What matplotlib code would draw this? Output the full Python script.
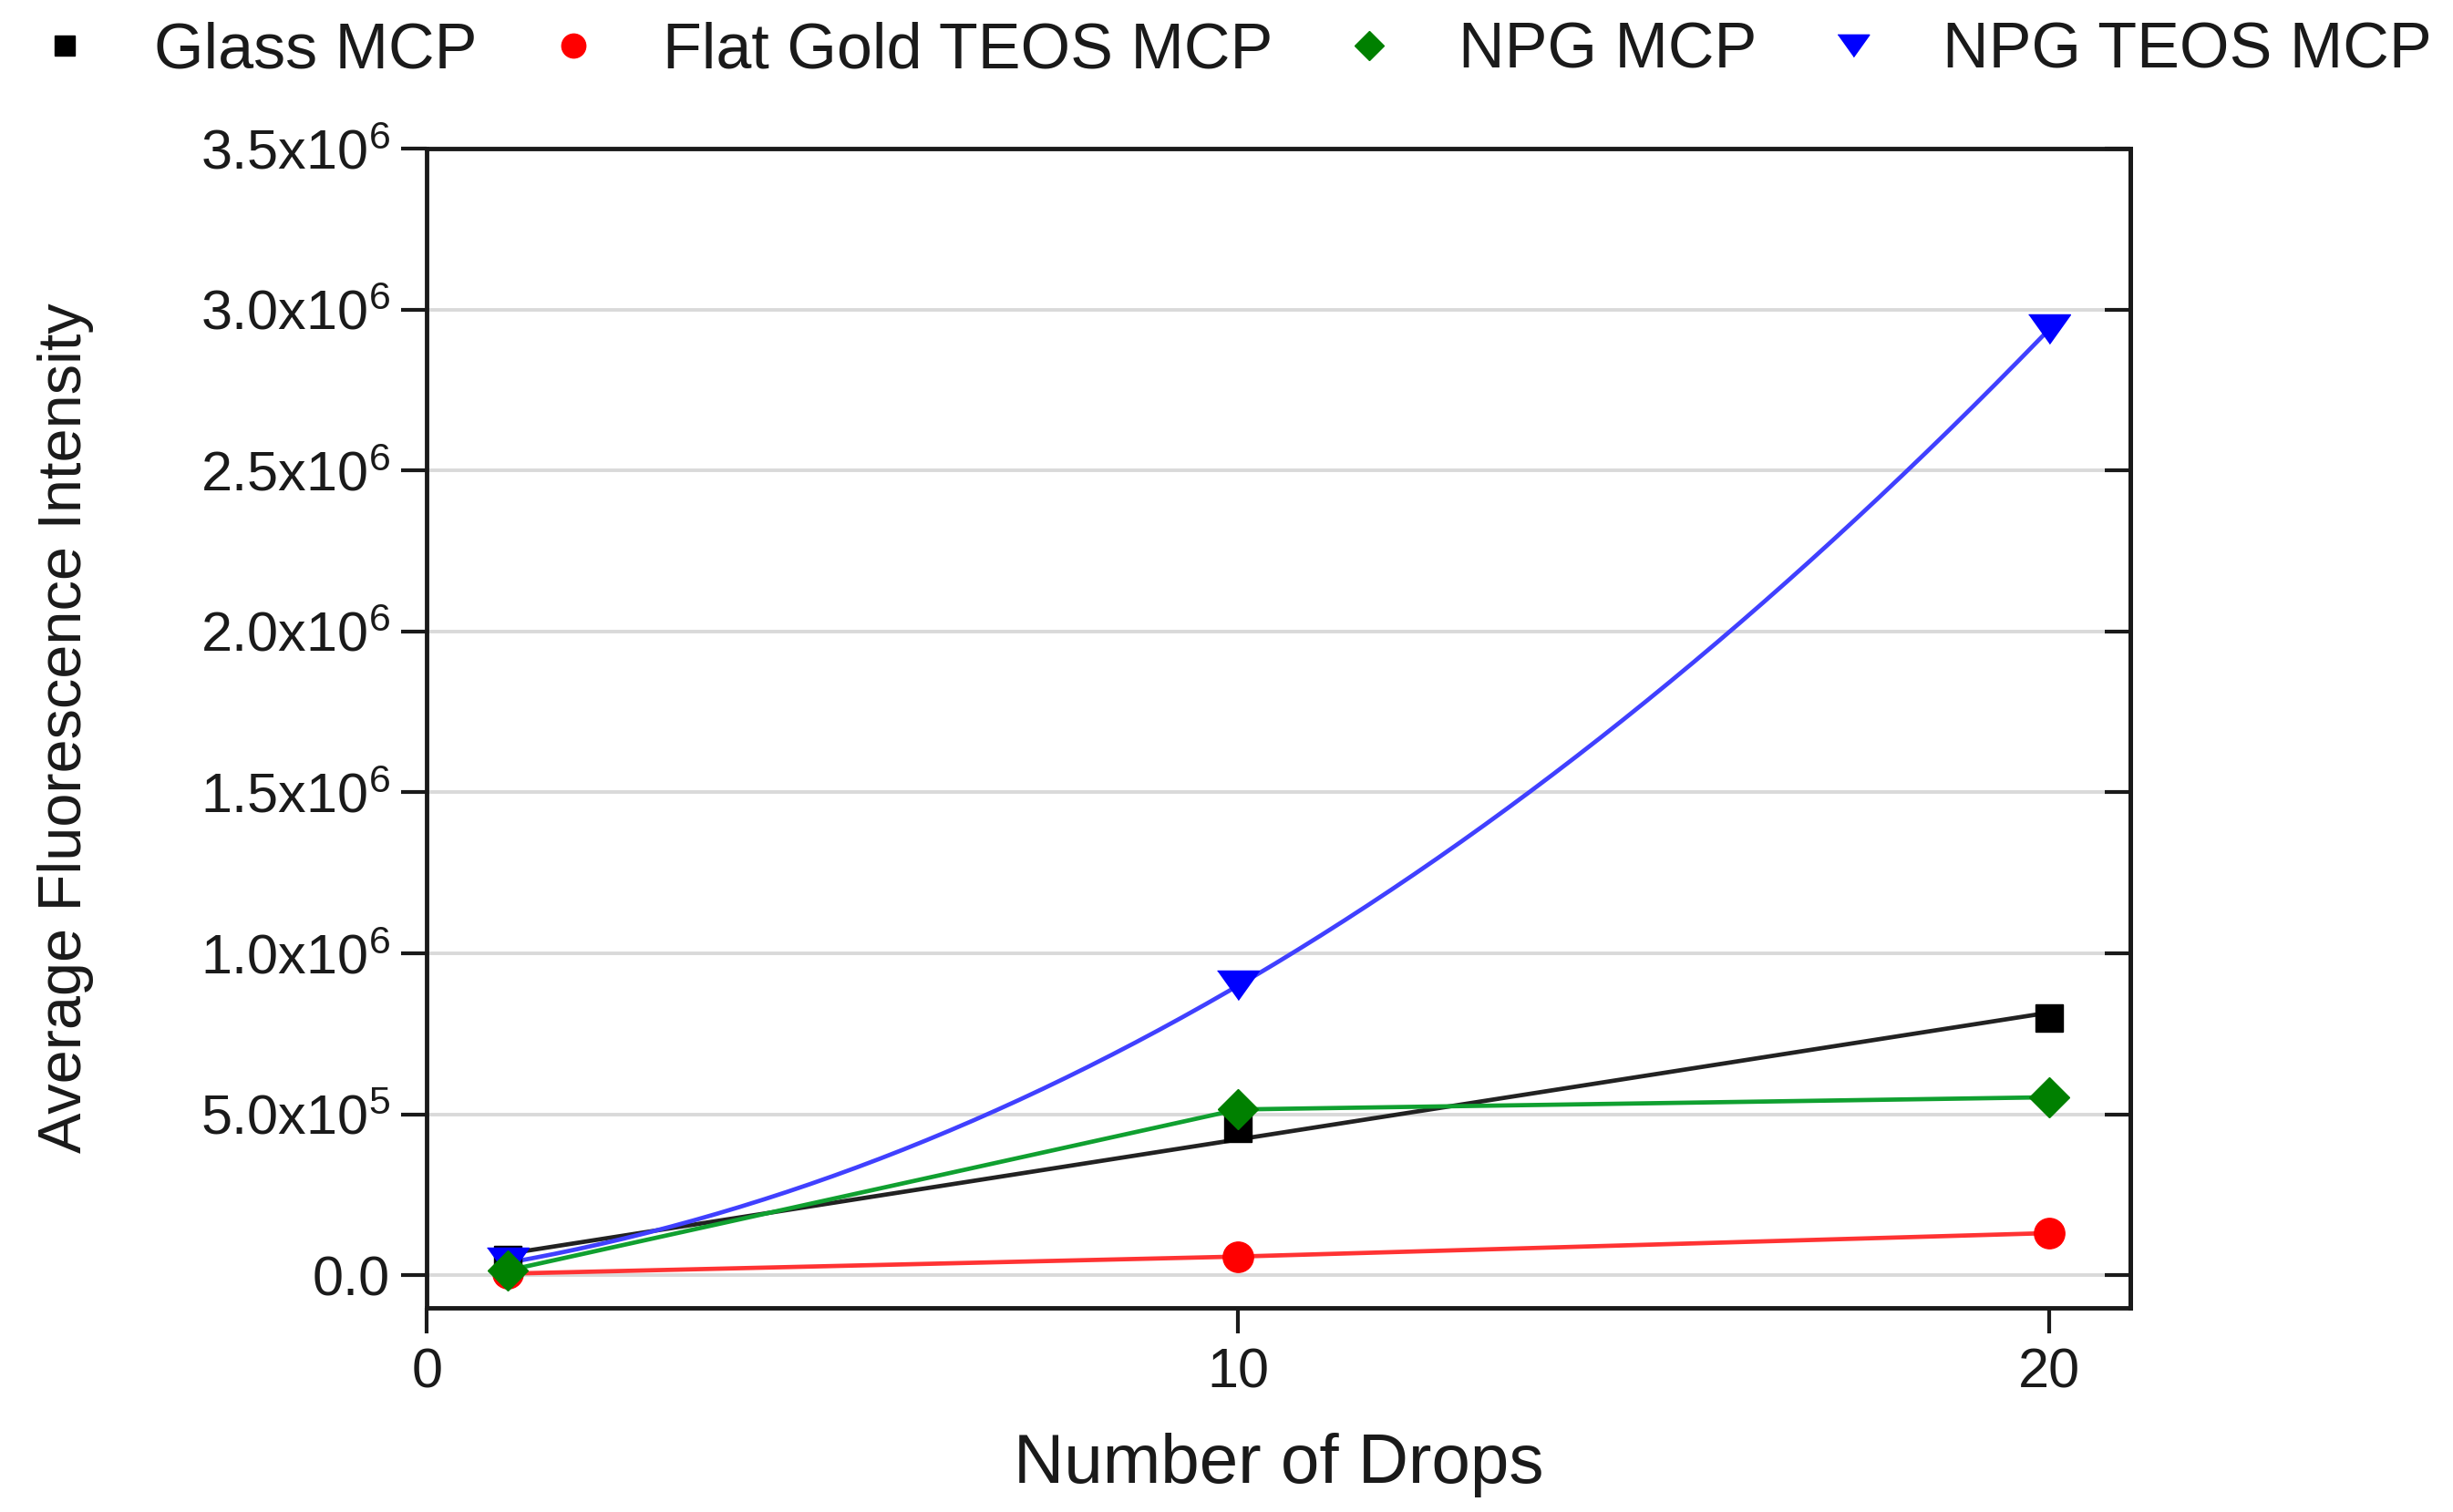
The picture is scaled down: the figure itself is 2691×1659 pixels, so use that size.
import numpy as np
import matplotlib
matplotlib.use("Agg")
import matplotlib.pyplot as plt
from matplotlib.lines import Line2D

plt.rcParams['font.family'] = ['Liberation Sans', 'DejaVu Sans']
plt.rcParams['mathtext.fontset'] = 'custom'
plt.rcParams['mathtext.rm'] = 'Liberation Sans'
plt.rcParams['mathtext.it'] = 'Liberation Sans:italic'
plt.rcParams['mathtext.bf'] = 'Liberation Sans:bold'

# data
drops = [1, 10, 20]
glass = [4.9e4, 4.56e5, 8.0e5]
flat_gold = [5e3, 5.8e4, 1.31e5]
npg = [1.5e4, 5.15e5, 5.53e5]
npg_teos = [3.9e4, 9.0e5, 2.94e6]

series_names = ["Glass MCP", "Flat Gold TEOS MCP", "NPG MCP", "NPG TEOS MCP"]

xtick_vals = [0, 10, 20]
ytick_vals = [0, 5e5, 1.0e6, 1.5e6, 2.0e6, 2.5e6, 3.0e6, 3.5e6]
ytick_labels = ['0.0', r'$\mathrm{5.0x10}^{5}$', r'$\mathrm{1.0x10}^{6}$',
                r'$\mathrm{1.5x10}^{6}$', r'$\mathrm{2.0x10}^{6}$',
                r'$\mathrm{2.5x10}^{6}$', r'$\mathrm{3.0x10}^{6}$',
                r'$\mathrm{3.5x10}^{6}$']

tri = [(-1, 0.7), (1, 0.7), (0, -0.7)]

fig = plt.figure(figsize=(26.91, 16.59), dpi=100)
ax = fig.add_axes([0.174, 0.1353, 0.6946, 0.7664])

# grid
for v in ytick_vals[:-1]:
    ax.axhline(v, color='#d9d9d9', lw=2.8, zorder=0)

x = np.array(drops, dtype=float)
xs = np.linspace(x[0], x[-1], 200)
lw = 3.4

# Glass: linear fit line
fit_g = np.polyfit(x, glass, 1)
ax.plot(xs, np.polyval(fit_g, xs), color='#222222', lw=lw, zorder=2)
ax.plot(x, glass, ls='none', marker='s', ms=21, color='black', zorder=3)

# Flat gold: straight segments
ax.plot(x, flat_gold, color='#ff3333', lw=lw, zorder=2)
ax.plot(x, flat_gold, ls='none', marker='o', ms=24, color='#ff0000', zorder=3)

# NPG TEOS: smooth curve through points
fit_b = np.polyfit(x, npg_teos, 2)
ax.plot(xs, np.polyval(fit_b, xs), color='#4040ff', lw=lw, zorder=2)
ax.plot(x, npg_teos, ls='none', marker=tri, ms=33, color='#0000ff', zorder=3)

# NPG: straight segments
ax.plot(x, npg, color='#10a030', lw=lw, zorder=2)
ax.plot(x, npg, ls='none', marker='D', ms=22, color='#008000', zorder=4)

ax.set_xlim(0, 21)
ax.set_ylim(-1e5, 3.5e6)
ax.set_xticks(xtick_vals)
ax.set_xticklabels([str(v) for v in xtick_vals])
ax.set_yticks(ytick_vals)
ax.set_yticklabels(ytick_labels)

for s in ax.spines.values():
    s.set_linewidth(3.5)
    s.set_color('#1a1a1a')

ax.tick_params(axis='both', direction='out', length=20, width=3, colors='#1a1a1a',
               labelsize=44, labelcolor='#1a1a1a')
ax.tick_params(axis='y', pad=9)
ax.tick_params(axis='x', pad=12)

sec = ax.secondary_yaxis('right')
sec.set_yticks(ytick_vals)
sec.tick_params(direction='in', length=20, width=3, labelright=False, colors='#1a1a1a')
sec.spines['right'].set_linewidth(3.5)

ax.set_xlabel("Number of Drops", fontsize=55, color='#1a1a1a')
ax.set_ylabel("Average Fluorescence Intensity", fontsize=48, color='#1a1a1a')
ax.xaxis.set_label_coords(0.5, -0.136)
ax.xaxis.label.set_va('center')
ax.yaxis.set_label_coords(-0.212, 0.5)
ax.yaxis.label.set_va('center')

handles = [
    Line2D([], [], ls='none', marker='s', ms=16, color='black'),
    Line2D([], [], ls='none', marker='o', ms=19, color='#ff0000'),
    Line2D([], [], ls='none', marker='D', ms=16, color='#008000'),
    Line2D([], [], ls='none', marker=tri, ms=25, color='#0000ff'),
]
fig.legend(handles, series_names, loc='center', bbox_to_anchor=(0.505, 0.9657),
           ncol=4, frameon=False, fontsize=50.5, handlelength=0.6,
           handletextpad=1.1, columnspacing=1.2, labelcolor='#1a1a1a')

fig.savefig("out.png", dpi=100)
